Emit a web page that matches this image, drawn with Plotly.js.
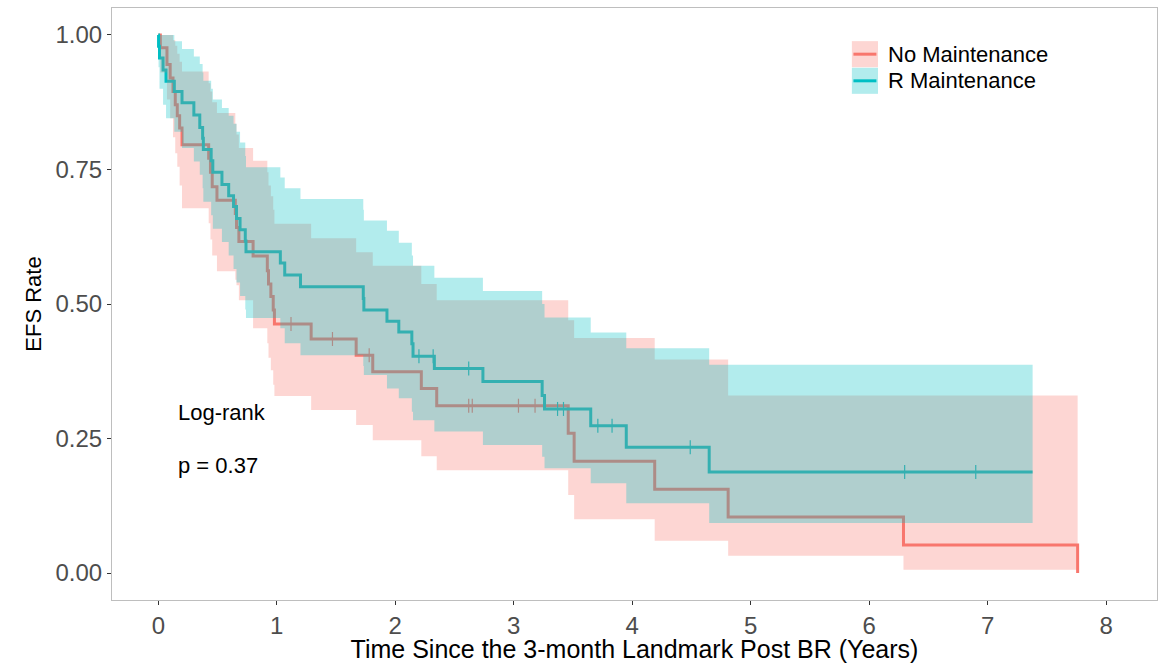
<!DOCTYPE html>
<html>
<head>
<meta charset="utf-8">
<script src="https://cdn.plot.ly/plotly-3.0.1.min.js"></script>
<style>html,body{margin:0;padding:0;background:#fff;}#chart{width:1166px;height:663px;}</style>
</head>
<body>
<div id="chart"></div>
<script>
// ---- No Maintenance (red) ----
const redTime  = [0, 0.017, 0.073, 0.1, 0.124, 0.143, 0.16, 0.18, 0.2, 0.425, 0.44, 0.455, 0.495, 0.65, 0.66, 0.68, 0.8, 0.92, 0.93, 0.95, 0.97, 0.98, 1.29, 1.67, 1.81, 2.22, 2.35, 3.46, 3.51, 4.19, 4.81, 6.29, 7.76];
const redSurv  = [1, 0.976, 0.945, 0.92, 0.895, 0.87, 0.85, 0.827, 0.796, 0.771, 0.745, 0.718, 0.693, 0.668, 0.642, 0.616, 0.589, 0.562, 0.537, 0.514, 0.489, 0.463, 0.435, 0.405, 0.374, 0.343, 0.311, 0.26, 0.208, 0.156, 0.104, 0.052, 0];
const redUpper = [1, 1, 1, 1, 0.99, 0.98, 0.965, 0.95, 0.932, 0.91, 0.895, 0.875, 0.855, 0.835, 0.815, 0.79, 0.766, 0.745, 0.72, 0.70, 0.675, 0.649, 0.622, 0.596, 0.571, 0.537, 0.507, 0.47, 0.437, 0.397, 0.33, 0.33, 0.33];
const redLower = [1, 0.93, 0.88, 0.845, 0.81, 0.78, 0.755, 0.72, 0.678, 0.65, 0.62, 0.59, 0.561, 0.545, 0.535, 0.507, 0.455, 0.427, 0.40, 0.377, 0.35, 0.329, 0.303, 0.275, 0.247, 0.217, 0.191, 0.145, 0.1, 0.06, 0.032, 0.006, 0.006];
const redCensor = [1.12, 1.47, 1.78, 2.62, 2.65, 3.04, 3.18];

// ---- R Maintenance (teal) ----
const tealTime  = [0, 0.002, 0.01, 0.04, 0.065, 0.135, 0.2, 0.3, 0.35, 0.374, 0.38, 0.446, 0.46, 0.537, 0.594, 0.635, 0.66, 0.69, 0.734, 0.74, 1.03, 1.067, 1.2, 1.73, 1.735, 1.93, 2.03, 2.14, 2.15, 2.33, 2.74, 3.24, 3.26, 3.65, 3.95, 4.65, 7.38];
const tealSurv  = [1, 0.979, 0.957, 0.935, 0.914, 0.895, 0.874, 0.851, 0.828, 0.808, 0.787, 0.766, 0.745, 0.722, 0.701, 0.681, 0.659, 0.638, 0.617, 0.597, 0.576, 0.554, 0.532, 0.51, 0.489, 0.468, 0.448, 0.426, 0.403, 0.38, 0.356, 0.33, 0.305, 0.274, 0.234, 0.188, 0.188];
const tealUpper = [1, 1, 1, 1, 1, 0.988, 0.974, 0.96, 0.946, 0.93, 0.915, 0.9, 0.88, 0.864, 0.85, 0.835, 0.82, 0.8, 0.775, 0.754, 0.735, 0.715, 0.695, 0.675, 0.655, 0.636, 0.614, 0.59, 0.571, 0.549, 0.524, 0.5, 0.475, 0.447, 0.418, 0.387, 0.387];
const tealLower = [1, 0.94, 0.9, 0.87, 0.845, 0.82, 0.79, 0.765, 0.74, 0.715, 0.69, 0.665, 0.64, 0.615, 0.59, 0.565, 0.54, 0.515, 0.49, 0.474, 0.455, 0.427, 0.405, 0.385, 0.368, 0.343, 0.325, 0.3, 0.284, 0.263, 0.238, 0.216, 0.195, 0.167, 0.13, 0.093, 0.093];
const tealCensor = [2.2, 2.32, 2.62, 3.37, 3.42, 3.71, 3.83, 4.49, 6.3, 6.9];

const groupNames = ["No Maintenance", "R Maintenance"];
const xTicks = [0, 1, 2, 3, 4, 5, 6, 7, 8];
const yTicks = [0, 0.25, 0.5, 0.75, 1];
const yTickText = ["0.00", "0.25", "0.50", "0.75", "1.00"];
const pText = ["Log-rank", "p = 0.37"];

const RED = "#F8766D", TEAL = "#00BFC4";
const RED_FILL = "rgba(248,118,109,0.3)", TEAL_FILL = "rgba(0,191,196,0.3)";

function stepAt(times, vals, t) {
  let v = vals[0];
  for (let i = 0; i < times.length; i++) { if (times[i] <= t) v = vals[i]; }
  return v;
}

const traces = [
  {x: redTime, y: redSurv, type: "scatter", mode: "lines", line: {shape: "hv", color: RED, width: 3}, showlegend: false, hoverinfo: "skip"},
  {x: tealTime, y: tealSurv, type: "scatter", mode: "lines", line: {shape: "hv", color: TEAL, width: 3}, showlegend: false, hoverinfo: "skip"},
  {x: redCensor, y: redCensor.map(t => stepAt(redTime, redSurv, t)), type: "scatter", mode: "markers",
   marker: {symbol: "line-ns", size: 10, line: {color: RED, width: 1.2}}, showlegend: false, hoverinfo: "skip"},
  {x: tealCensor, y: tealCensor.map(t => stepAt(tealTime, tealSurv, t)), type: "scatter", mode: "markers",
   marker: {symbol: "line-ns", size: 10, line: {color: TEAL, width: 1.2}}, showlegend: false, hoverinfo: "skip"},
  {x: redTime, y: redUpper, type: "scatter", mode: "lines", line: {shape: "hv", width: 0, color: "rgba(0,0,0,0)"}, showlegend: false, hoverinfo: "skip"},
  {x: redTime, y: redLower, type: "scatter", mode: "lines", fill: "tonexty", fillcolor: RED_FILL, line: {shape: "hv", width: 0, color: "rgba(0,0,0,0)"}, showlegend: false, hoverinfo: "skip"},
  {x: tealTime, y: tealUpper, type: "scatter", mode: "lines", line: {shape: "hv", width: 0, color: "rgba(0,0,0,0)"}, showlegend: false, hoverinfo: "skip"},
  {x: tealTime, y: tealLower, type: "scatter", mode: "lines", fill: "tonexty", fillcolor: TEAL_FILL, line: {shape: "hv", width: 0, color: "rgba(0,0,0,0)"}, showlegend: false, hoverinfo: "skip"}
];

const FONT = "Liberation Sans, Arial, Helvetica, sans-serif";

// manual legend (paper coordinates)
const legendRows = [
  {name: groupNames[0], line: RED, fill: RED_FILL, y0: 0.900, y1: 0.944},
  {name: groupNames[1], line: TEAL, fill: TEAL_FILL, y0: 0.855, y1: 0.899}
];
const shapes = [];
const annotations = [];
legendRows.forEach(r => {
  shapes.push({type: "rect", xref: "paper", yref: "paper", x0: 0.708, x1: 0.733, y0: r.y0, y1: r.y1, fillcolor: r.fill, line: {width: 0}, layer: "above"});
  shapes.push({type: "line", xref: "paper", yref: "paper", x0: 0.7095, x1: 0.7315, y0: (r.y0 + r.y1) / 2, y1: (r.y0 + r.y1) / 2, line: {color: r.line, width: 3}, layer: "above"});
  annotations.push({xref: "paper", yref: "paper", x: 0.741, y: (r.y0 + r.y1) / 2, xanchor: "left", yanchor: "middle", showarrow: false, text: r.name, font: {family: FONT, size: 22, color: "#000"}});
});
annotations.push({xref: "x", yref: "y", x: 0.15, y: 0.299, xanchor: "left", yanchor: "middle", showarrow: false, text: pText[0], font: {family: FONT, size: 22, color: "#000"}});
annotations.push({xref: "x", yref: "y", x: 0.15, y: 0.199, xanchor: "left", yanchor: "middle", showarrow: false, text: pText[1], font: {family: FONT, size: 22, color: "#000"}});

const layout = {
  width: 1166, height: 663,
  margin: {l: 112, r: 9, t: 8, b: 63},
  paper_bgcolor: "#fff", plot_bgcolor: "#fff",
  showlegend: false,
  font: {family: FONT},
  xaxis: {
    range: [-0.391, 8.43], tickvals: xTicks, ticktext: xTicks.map(String),
    showgrid: false, zeroline: false, showline: true, mirror: true, linecolor: "#BEBEBE", linewidth: 1,
    ticks: "outside", ticklen: 4, tickwidth: 1, tickcolor: "#333",
    tickfont: {family: FONT, size: 24, color: "#4D4D4D"},
    automargin: false,
    title: {text: "Time Since the 3-month Landmark Post BR (Years)", font: {family: FONT, size: 25, color: "#000"}, standoff: 6}
  },
  yaxis: {
    range: [-0.05, 1.05], tickvals: yTicks, ticktext: yTickText,
    showgrid: false, zeroline: false, showline: true, mirror: true, linecolor: "#BEBEBE", linewidth: 1,
    ticks: "outside", ticklen: 4, tickwidth: 1, tickcolor: "#333",
    tickfont: {family: FONT, size: 24, color: "#4D4D4D"},
    automargin: false,
    title: {text: "EFS Rate", font: {family: FONT, size: 22, color: "#000"}, standoff: 7}
  },
  shapes: shapes,
  annotations: annotations
};

Plotly.newPlot("chart", traces, layout, {staticPlot: true, displayModeBar: false});
</script>
</body>
</html>
